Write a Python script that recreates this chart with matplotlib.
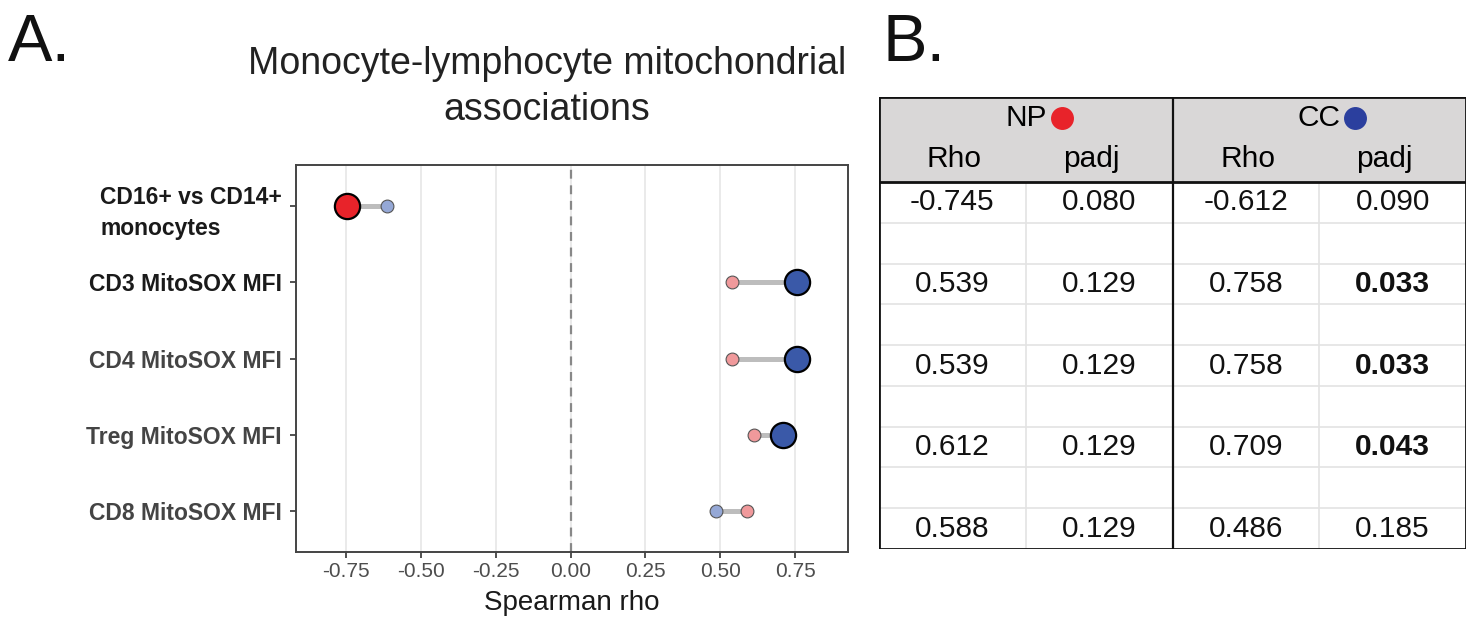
import numpy as np
import matplotlib
matplotlib.use('Agg')
import matplotlib.pyplot as plt

plt.rcParams['font.family'] = ['Liberation Sans', 'DejaVu Sans']

categories = ['CD16+ vs CD14+\nmonocytes', 'CD3 MitoSOX MFI', 'CD4 MitoSOX MFI',
              'Treg MitoSOX MFI', 'CD8 MitoSOX MFI']
label_colors = ['#1a1a1a', '#1a1a1a', '#444444', '#444444', '#444444']
np_rho = [-0.745, 0.539, 0.539, 0.612, 0.588]
np_padj = [0.080, 0.129, 0.129, 0.129, 0.129]
cc_rho = [-0.612, 0.758, 0.758, 0.709, 0.486]
cc_padj = [0.090, 0.033, 0.033, 0.043, 0.185]
np_big = [True, False, False, False, False]
cc_big = [False, True, True, True, False]
xticks = [-0.75, -0.50, -0.25, 0.00, 0.25, 0.50, 0.75]

W, H = 1473, 631
fig = plt.figure(figsize=(W / 100, H / 100), dpi=100)

# ---- panel A: dumbbell plot
ax = fig.add_axes([296 / W, (H - 552) / H, 552 / W, 387 / H])
y = np.arange(len(categories))[::-1]

for xi in xticks:
    ax.axvline(xi, color='#e6e6e6', lw=1.2, zorder=0)
ax.axvline(0, color='#888888', lw=1.6, ls=(0, (4, 3)), zorder=1)

for yi, a, b in zip(y, np_rho, cc_rho):
    ax.plot([a, b], [yi, yi], color='#bdbdbd', lw=3.6, solid_capstyle='butt', zorder=2)

red, red_l = '#e8232a', '#f0999b'
blue, blue_l = '#3a59a8', '#95a8d6'
for vals, big, c, cl in [(np_rho, np_big, red, red_l), (cc_rho, cc_big, blue, blue_l)]:
    for yi, v, b in zip(y, vals, big):
        if b:
            ax.scatter(v, yi, s=330, color=c, edgecolor='black', linewidth=1.6, zorder=4)
        else:
            ax.scatter(v, yi, s=85, color=cl, edgecolor='#555555', linewidth=0.8, zorder=3)

ax.set_xlim(-0.917, 0.927)
ax.set_ylim(-0.54, len(categories) - 1 + 0.54)
ax.set_xticks(xticks)
ax.set_xticklabels([f'{t:.2f}' for t in xticks], fontsize=15, color='#4d4d4d')
ax.set_yticks(y)
ax.set_yticklabels(categories, fontsize=16.5, fontweight='bold')
for lab, c in zip(ax.get_yticklabels(), label_colors):
    lab.set_color(c)
first = ax.get_yticklabels()[0]
first.set_multialignment('left')
first.set_linespacing(1.45)
ax.tick_params(axis='both', length=4, color='#333333', width=1.2)
ax.tick_params(axis='y', pad=6)
for s in ax.spines.values():
    s.set_color('#444444')
    s.set_linewidth(1.4)
ax.set_xlabel('Spearman rho', fontsize=20, color='#1a1a1a', labelpad=6)

fig.text(547 / W, 1 - 87 / H, 'Monocyte-lymphocyte mitochondrial\nassociations',
         ha='center', va='center', fontsize=27, color='#222222', linespacing=1.35)
fig.text(8 / W, 1 - 44 / H, 'A.', fontsize=48, va='center', ha='left', color='#111111')
fig.text(883 / W, 1 - 44 / H, 'B.', fontsize=48, va='center', ha='left', color='#111111')

# ---- panel B: table
tw, th = 1466 - 879, 549 - 97
tb = fig.add_axes([879 / W, (H - 549) / H, tw / W, th / H])
tb.set_xlim(0, tw)
tb.set_ylim(th, 0)
tb.axis('off')
hdr = 85
rh = (th - hdr) / 9
colw = tw / 4
tb.add_patch(plt.Rectangle((0, 0), tw, hdr, color='#d9d7d7', zorder=0))
for i in range(1, 9):
    tb.plot([0, tw], [hdr + i * rh] * 2, color='#e3e3e3', lw=1.2, zorder=1)
for j in [1, 3]:
    tb.plot([j * colw] * 2, [hdr, th], color='#e3e3e3', lw=1.2, zorder=1)
tb.plot([2 * colw] * 2, [0, th], color='#111111', lw=1.6, zorder=3)
tb.plot([0, tw], [hdr, hdr], color='#111111', lw=2, zorder=3)
tb.add_patch(plt.Rectangle((0, 0), tw, th, fill=False, ec='#111111', lw=2, zorder=4))

tfs = 21.5
tb.text(colw, 21, 'NP', ha='center', va='center', fontsize=tfs)
tb.scatter([colw + 36], [21], s=240, color=red, zorder=5)
tb.text(3 * colw, 21, 'CC', ha='center', va='center', fontsize=tfs)
tb.scatter([3 * colw + 36], [21], s=240, color='#2b3f9e', zorder=5)
for k, name in enumerate(['Rho', 'padj', 'Rho', 'padj']):
    tb.text((k + 0.5) * colw + (-8 if name == 'padj' else 2), 62, name,
            ha='center', va='center', fontsize=tfs)

for r in range(len(categories)):
    yc = hdr + (2 * r + 0.5) * rh
    row = [f'{np_rho[r]:.3f}', f'{np_padj[r]:.3f}', f'{cc_rho[r]:.3f}', f'{cc_padj[r]:.3f}']
    for k, txt in enumerate(row):
        bold = (k == 3 and cc_padj[r] < 0.05)
        tb.text((k + 0.5) * colw, yc, txt, ha='center', va='center', fontsize=tfs,
                fontweight='bold' if bold else 'normal', color='#111111')

fig.savefig('out.png', dpi=100)
